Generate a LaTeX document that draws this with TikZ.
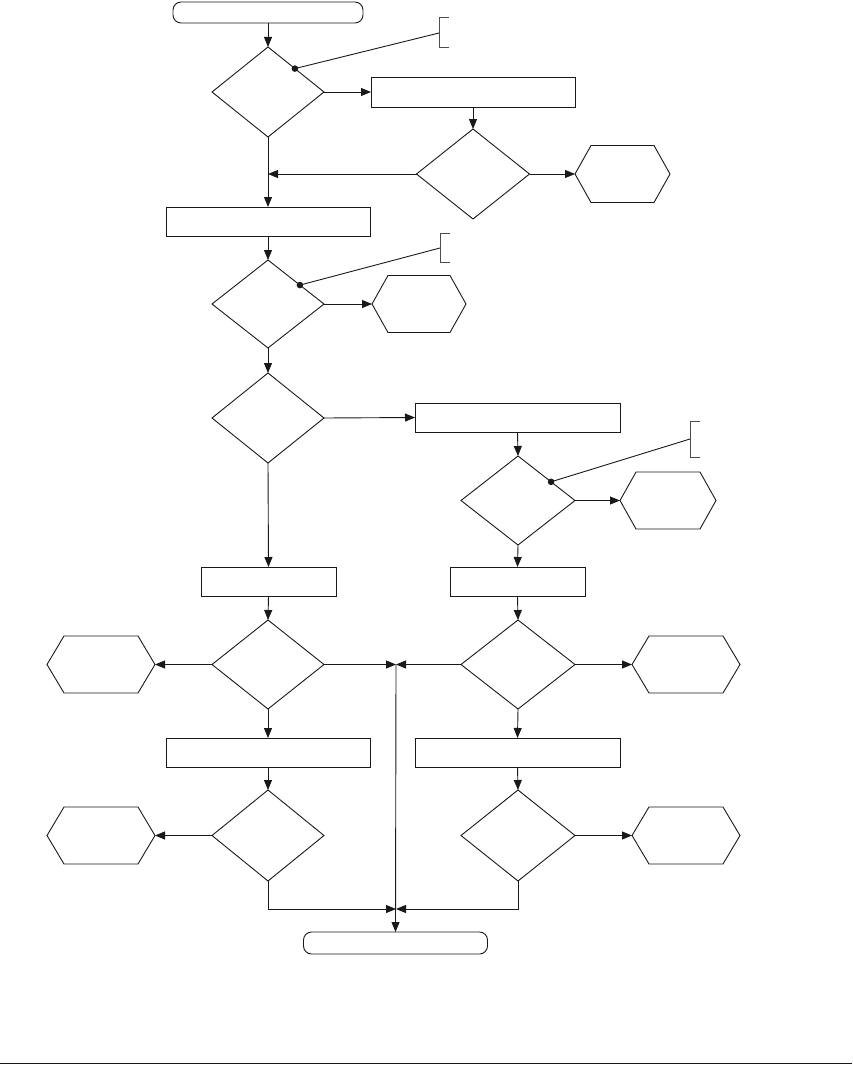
\documentclass[tikz,border=0pt]{standalone}
\usetikzlibrary{shapes.geometric,arrows.meta,calc}
\begin{document}
\begin{tikzpicture}[x=1pt,y=-1pt,
  ln/.style={line width=0.9pt, draw=black!90},
  arr/.style={ln, -{Triangle[length=10pt,width=8pt]}},
  dec/.style={draw=black!90, diamond, inner sep=0pt, outer sep=0pt, line width=0.9pt, minimum width=112pt, minimum height=90pt},
  box/.style={draw=black!90, rectangle, inner sep=0pt, outer sep=0pt, line width=0.9pt, minimum height=29pt},
  term/.style={draw=black!90, rectangle, rounded corners=8pt, inner sep=0pt, outer sep=0pt, line width=0.9pt, minimum height=21pt},
  hexa/.style={rectangle, inner sep=0pt, outer sep=0pt, minimum height=57pt},
  brk/.style={line width=0.9pt, draw=black!70}
]
\useasboundingbox (0,0) rectangle (852,1065);

% start
\node[term, minimum width=190pt] (start) at (268,12.5) {};
\node[dec] (d1) at (268,92) {};
\node[box, minimum width=204pt, minimum height=30pt] (r1) at (473,92) {};
\node[dec, minimum width=113pt] (d2) at (473,174) {};
\node[hexa, minimum width=95pt] (hx1) at (622.5,174) {};
\node[box, minimum width=204pt] (r2) at (268,221.5) {};
\node[dec, minimum height=88pt] (d3) at (268,304) {};
\node[hexa, minimum width=94pt] (hx2) at (419,304) {};
\node[dec] (d4) at (268,418) {};
\node[box, minimum width=205pt] (r3) at (517.5,417.5) {};
\node[dec, minimum width=114pt, minimum height=89pt] (d5) at (518,500.5) {};
\node[hexa, minimum width=96pt] (hx3) at (668,500.5) {};
\node[box, minimum width=135pt] (r4) at (268.5,581.5) {};
\node[box, minimum width=135pt] (r5) at (517.5,581.5) {};
\node[dec, minimum height=89pt] (d6) at (268,664.5) {};
\node[dec, minimum width=114pt, minimum height=89pt] (d7) at (518,664.5) {};
\node[hexa, minimum width=108pt] (hx4) at (101,664.5) {};
\node[hexa, minimum width=108pt] (hx5) at (686,664.5) {};
\node[box, minimum width=204pt] (r6) at (268,752.5) {};
\node[box, minimum width=205pt] (r7) at (517.5,752.5) {};
\node[dec, minimum height=91pt] (d8) at (268,835.5) {};
\node[dec, minimum width=114pt, minimum height=91pt] (d9) at (518,835.5) {};
\node[hexa, minimum width=108pt] (hx6) at (101,835.5) {};
\node[hexa, minimum width=108pt] (hx7) at (686,835.5) {};
\node[term, minimum width=184pt, minimum height=22pt] (end) at (395.5,943) {};

% hexagon outlines
\foreach \h/\s in {hx1/16, hx2/16, hx3/16, hx4/17, hx5/17, hx6/17, hx7/17}{
  \draw[ln] (\h.west) -- ($(\h.north west)+(\s,0)$) -- ($(\h.north east)+(-\s,0)$)
    -- (\h.east) -- ($(\h.south east)+(-\s,0)$) -- ($(\h.south west)+(\s,0)$) -- cycle;
}

% coordinates
\coordinate (m1) at (268,174);
\coordinate (j1) at (396,664.5);
\coordinate (j2) at (396,909);

% connectors
\draw[arr] (start) -- (d1.north);
\draw[arr] (d1.east) -- (r1.west);
\draw[arr] (r1.south) -- (d2.north);
\draw[arr] (d2.east) -- (hx1.west);
\draw[arr] (d2.west) -- (m1);
\draw[arr] (d1.south) -- (r2.north);
\draw[arr] (r2.south) -- (d3.north);
\draw[arr] (d3.east) -- (hx2.west);
\draw[arr] (d3.south) -- (d4.north);
\draw[arr] (d4.east) -- (r3.west);
\draw[arr] (r3.south) -- (d5.north);
\draw[arr] (d5.east) -- (hx3.west);
\draw[arr] (d4.south) -- (r4.north);
\draw[arr] (d5.south) -- (r5.north);
\draw[arr] (r4.south) -- (d6.north);
\draw[arr] (r5.south) -- (d7.north);
\draw[arr] (d6.west) -- (hx4.east);
\draw[arr] (d7.east) -- (hx5.west);
\draw[arr] (d6.east) -- (j1);
\draw[arr] (d7.west) -- (j1);
\draw[arr] (d6.south) -- (r6.north);
\draw[arr] (d7.south) -- (r7.north);
\draw[arr] (r6.south) -- (d8.north);
\draw[arr] (r7.south) -- (d9.north);
\draw[arr] (d8.west) -- (hx6.east);
\draw[arr] (d9.east) -- (hx7.west);
\draw[arr] (d8.south) |- (j2);
\draw[arr] (d9.south) |- (j2);
\draw[arr] (j1) -- (end.north);

% annotation brackets
\coordinate (b1) at (439,33);
\coordinate (p1) at ($(d1.north)!0.48!(d1.east)$);
\draw[brk] (449,17) -- (439,17) -- (439,47) -- (449,47);
\draw[ln] (b1) -- (p1);
\fill[black!90] (p1) circle (3.3pt);

\coordinate (b2) at (440,248);
\coordinate (p2) at ($(d3.north)!0.57!(d3.east)$);
\draw[brk] (450,233) -- (440,233) -- (440,262) -- (450,262);
\draw[ln] (b2) -- (p2);
\fill[black!90] (p2) circle (3.3pt);

\coordinate (b3) at (690,439);
\coordinate (p3) at ($(d5.north)!0.58!(d5.east)$);
\draw[brk] (700,421) -- (690,421) -- (690,457) -- (700,457);
\draw[ln] (b3) -- (p3);
\fill[black!90] (p3) circle (3.3pt);

% bottom rule
\draw[line width=1.4pt, black!90] (0,1063.5) -- (852,1063.5);
\end{tikzpicture}
\end{document}
